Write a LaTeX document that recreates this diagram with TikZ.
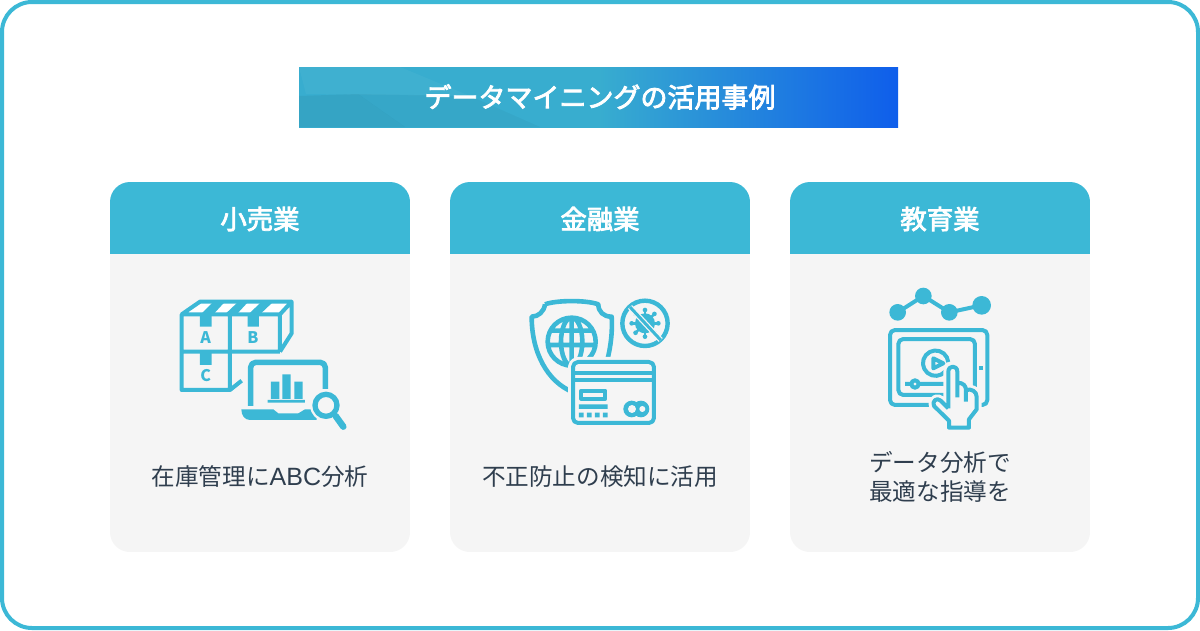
\documentclass[tikz,border=0pt]{standalone}
\usepackage{fontspec}
\setmainfont{Noto Sans CJK JP}
\newfontfamily\latinfont{Liberation Sans}
\newfontfamily\headfont[FakeBold = 3]{Noto Sans CJK JP}
\definecolor{bannerleft}{HTML}{38ADCF}
\definecolor{bannerright}{HTML}{0F5EEB}
\definecolor{mainblue}{HTML}{3CB8D6}
\definecolor{cardgray}{HTML}{F5F5F5}
\definecolor{textgray}{HTML}{2F3E4E}
\pgfdeclarehorizontalshading{bannershade}{100bp}{
    color(0bp)=(bannerleft);
    color(25bp)=(bannerleft);
    color(50bp)=(bannerleft);
    color(75bp)=(bannerright);
    color(100bp)=(bannerright)
}
\tikzset{
    iconline/.style = {
        draw = mainblue,
        line width = 4pt,
        line join = round
    },
    halo/.style = {
        draw = cardgray,
        line width = 10pt,
        line join = round
    },
    titlelabel/.style = {
        text = white,
        font = \headfont\fontsize{27}{32}\selectfont
    },
    headlabel/.style = {
        text = white,
        font = \headfont\fontsize{26.4}{30}\selectfont
    },
    bodylabel/.style = {
        text = textgray,
        align = center,
        font = \fontsize{23.6}{29}\selectfont
    },
    boxletter/.style = {
        text = mainblue,
        font = \bfseries\fontsize{16}{16}\selectfont
    }
}

\begin{document}
\begin{tikzpicture}[x = 1pt, y = -1pt]
    \useasboundingbox
        (0, 0) rectangle (1200, 630)
    ;
    \fill
        [white]
        (0, 0) rectangle (1200, 630)
    ;

    % Frame
    \draw
        [mainblue, line width = 4pt, rounded corners = 30pt]
        (2, 2) rectangle (1198, 628)
    ;

    % Banner
    \begin{scope}
        \clip
            (299, 67) rectangle (898, 127)
        ;
        \shade
            [shading = bannershade]
            (299, 67) rectangle (898, 127)
        ;
        \fill
            [white, opacity = 0.04]
            (299, 67) -- (400, 67) -- (470, 96) -- (306, 94) -- cycle
        ;
        \fill
            [black, opacity = 0.05]
            (299, 96) -- (358, 94) -- (405, 127) -- (299, 127) -- cycle
        ;
        \fill
            [black, opacity = 0.03]
            (358, 94) -- (470, 96) -- (540, 127) -- (405, 127) -- cycle
        ;
    \end{scope}
    \node
        [titlelabel]
        (title) at (600, 97) {データマイニングの活用事例}
    ;

    % Cards
    \foreach \cardx/\cardname/\cardlabel in {110/retail/小売業, 450/finance/金融業, 790/school/教育業} {
        \begin{scope}
            \clip
                [rounded corners = 20pt]
                (\cardx, 182) rectangle (\cardx + 300, 552)
            ;
            \fill
                [cardgray]
                (\cardx, 254) rectangle (\cardx + 300, 552)
            ;
            \fill
                [mainblue]
                (\cardx, 182) rectangle (\cardx + 300, 254)
            ;
        \end{scope}
        \node
            [headlabel]
            (\cardname head) at (\cardx + 150, 219) {\cardlabel}
        ;
    }

    % Card texts
    \node
        [bodylabel]
        (retailtext) at (260, 477) {在庫管理に{\latinfont\fontsize{25}{29}\selectfont ABC}分析}
    ;
    \node
        [bodylabel]
        (financetext) at (600, 477) {不正防止の検知に活用}
    ;
    \node
        [bodylabel]
        (schooltext) at (940, 477) {データ分析で\\最適な指導を}
    ;

    % Boxes and laptop
    \begin{scope}[shift = {(170, 285)}, x = 0.3333pt, y = -0.3333pt]
        \fill
            [white]
            (35, 88) -- (90, 50) -- (365, 50) -- (330, 88) -- cycle
        ;
        \fill
            [mainblue]
            (92, 88) -- (130, 50) -- (165, 50) -- (130, 88) -- cycle
            (165, 88) -- (205, 50) -- (235, 50) -- (200, 88) -- cycle
            (235, 88) -- (275, 50) -- (310, 50) -- (270, 88) -- cycle
        ;
        \draw
            [iconline]
            (35, 88) -- (90, 50) -- (365, 50) -- (330, 88) -- cycle
            (330, 88) -- (330, 200)
            (365, 50) -- (365, 145) -- (330, 200)
            (35, 88) -- (35, 315) -- (180, 315) -- (215, 287)
            (180, 88) -- (180, 315)
            (35, 200) -- (330, 200)
        ;
        \fill
            [mainblue]
            (90, 88) rectangle (125, 125)
            (233, 88) rectangle (267, 125)
            (90, 200) rectangle (125, 240)
        ;
        \node [boxletter] (lettera) at (107, 158) {A};
        \node [boxletter] (letterb) at (249, 158) {B};
        \node [boxletter] (letterc) at (107, 272) {C};

        \draw
            [iconline, line width = 5.5pt, rounded corners = 5pt]
            (242, 363) -- (242, 232) -- (466, 232) -- (466, 312)
        ;
        \fill
            [mainblue]
            (214, 373) -- (310, 373) -- (325, 385) -- (385, 385) -- (405, 373)
            -- (440, 373) -- (440, 405) -- (240, 405)
            .. controls (225, 405) and (214, 392) .. (214, 373) -- cycle
        ;
        \fill
            [mainblue]
            (303, 290) rectangle (328, 342)
            (337, 268) rectangle (362, 342)
            (373, 290) rectangle (398, 342)
            (293, 345) rectangle (405, 353)
        ;
        \draw
            [halo, fill = cardgray]
            (468, 361) circle (33)
        ;
        \draw
            [iconline, line width = 5.3pt, fill = cardgray]
            (468, 361) circle (33)
        ;
        \draw
            [mainblue, line width = 6.5pt, line cap = round]
            (497, 393) -- (520, 425)
        ;
    \end{scope}

    % Shield, virus and card
    \begin{scope}[shift = {(520, 285)}, x = 0.3333pt, y = -0.3333pt]
        \draw
            [iconline, line width = 4.6pt]
            (75, 58) .. controls (110, 45) and (200, 45) .. (235, 58)
            .. controls (235, 80) and (250, 95) .. (275, 95)
            .. controls (278, 140) and (272, 185) .. (262, 225)
            (75, 58) .. controls (72, 80) and (55, 95) .. (35, 95)
            .. controls (35, 200) and (80, 290) .. (160, 322)
        ;
        \draw
            [iconline, line width = 4.6pt]
            (155, 170) circle (72)
            (155, 170) ellipse (32 and 72)
            (155, 98) -- (155, 242)
            (90, 137) -- (220, 137)
            (90, 180) -- (225, 180)
        ;
        \draw
            [iconline, line width = 4.4pt]
            (375, 115) circle (68)
        ;
        \fill
            [mainblue]
            (375, 115) circle (30)
        ;
        \foreach \spike in {0, 45, ..., 315} {
            \draw
                [mainblue, line width = 2.4pt]
                (375, 115) -- +(\spike:38)
            ;
            \fill
                [mainblue]
                (375, 115) ++(\spike:40) circle (7)
            ;
        }
        \draw
            [cardgray, line width = 5.5pt]
            (330, 66) -- (422, 165)
        ;
        \draw
            [mainblue, line width = 3pt]
            (330, 66) -- (422, 165)
        ;
        \draw
            [halo, fill = cardgray, rounded corners = 5pt]
            (159, 231) rectangle (402, 414)
        ;
        \draw
            [iconline, fill = cardgray, rounded corners = 5pt]
            (159, 231) rectangle (402, 414)
        ;
        \draw
            [iconline]
            (159, 265) -- (402, 265)
            (159, 285) -- (402, 285)
            (184, 317) rectangle (256, 341)
        ;
        \fill
            [mainblue]
            (177, 358) rectangle (263, 372)
            (177, 383) rectangle (191, 397)
            (201, 383) rectangle (215, 397)
            (225, 383) rectangle (239, 397)
            (249, 383) rectangle (263, 397)
            (335, 372) circle (25)
            (363, 372) circle (25)
        ;
        \fill
            [cardgray]
            (336, 372) circle (12)
            (367, 372) circle (9)
        ;
    \end{scope}

    % Graph, tablet and hand
    \begin{scope}[shift = {(870, 280)}, x = 0.3333pt, y = -0.3333pt]
        \draw
            [iconline]
            (83, 97) -- (160, 48) -- (238, 97) -- (335, 76)
        ;
        \fill
            [mainblue]
            (83, 97) circle (25)
            (160, 48) circle (25)
            (238, 97) circle (25)
            (335, 76) circle (28)
        ;
        \draw
            [iconline, rounded corners = 5pt]
            (60, 150) rectangle (352, 375)
            (85, 177) rectangle (315, 345)
        ;
        \fill
            [mainblue]
            (327, 259) rectangle (339, 271)
        ;
        \draw
            [iconline]
            (226, 274) arc [start angle = 40, end angle = 355, radius = 38]
            (105, 312) -- (225, 312)
            (190, 235) -- (190, 265) -- (220, 250) -- cycle
        ;
        \draw
            [iconline, fill = cardgray]
            (135, 312) circle (11)
        ;
        \draw
            [halo, fill = cardgray]
            (235, 385) -- (235, 275)
            .. controls (235, 255) and (262, 255) .. (262, 275)
            -- (262, 308) .. controls (280, 308) and (288, 318) .. (288, 330)
            .. controls (305, 325) and (320, 335) .. (320, 350)
            -- (320, 388) -- (297, 418) -- (297, 443) -- (237, 443) -- (237, 422)
            -- (192, 378) .. controls (185, 365) and (200, 350) .. (212, 362)
            -- cycle
        ;
        \draw
            [iconline, fill = cardgray]
            (235, 385) -- (235, 275)
            .. controls (235, 255) and (262, 255) .. (262, 275)
            -- (262, 308) .. controls (280, 308) and (288, 318) .. (288, 330)
            .. controls (305, 325) and (320, 335) .. (320, 350)
            -- (320, 388) -- (297, 418) -- (297, 443) -- (237, 443) -- (237, 422)
            -- (192, 378) .. controls (185, 365) and (200, 350) .. (212, 362)
            -- (235, 385)
            (262, 308) -- (262, 352)
            (288, 330) -- (288, 365)
        ;
    \end{scope}
\end{tikzpicture}
\end{document}
